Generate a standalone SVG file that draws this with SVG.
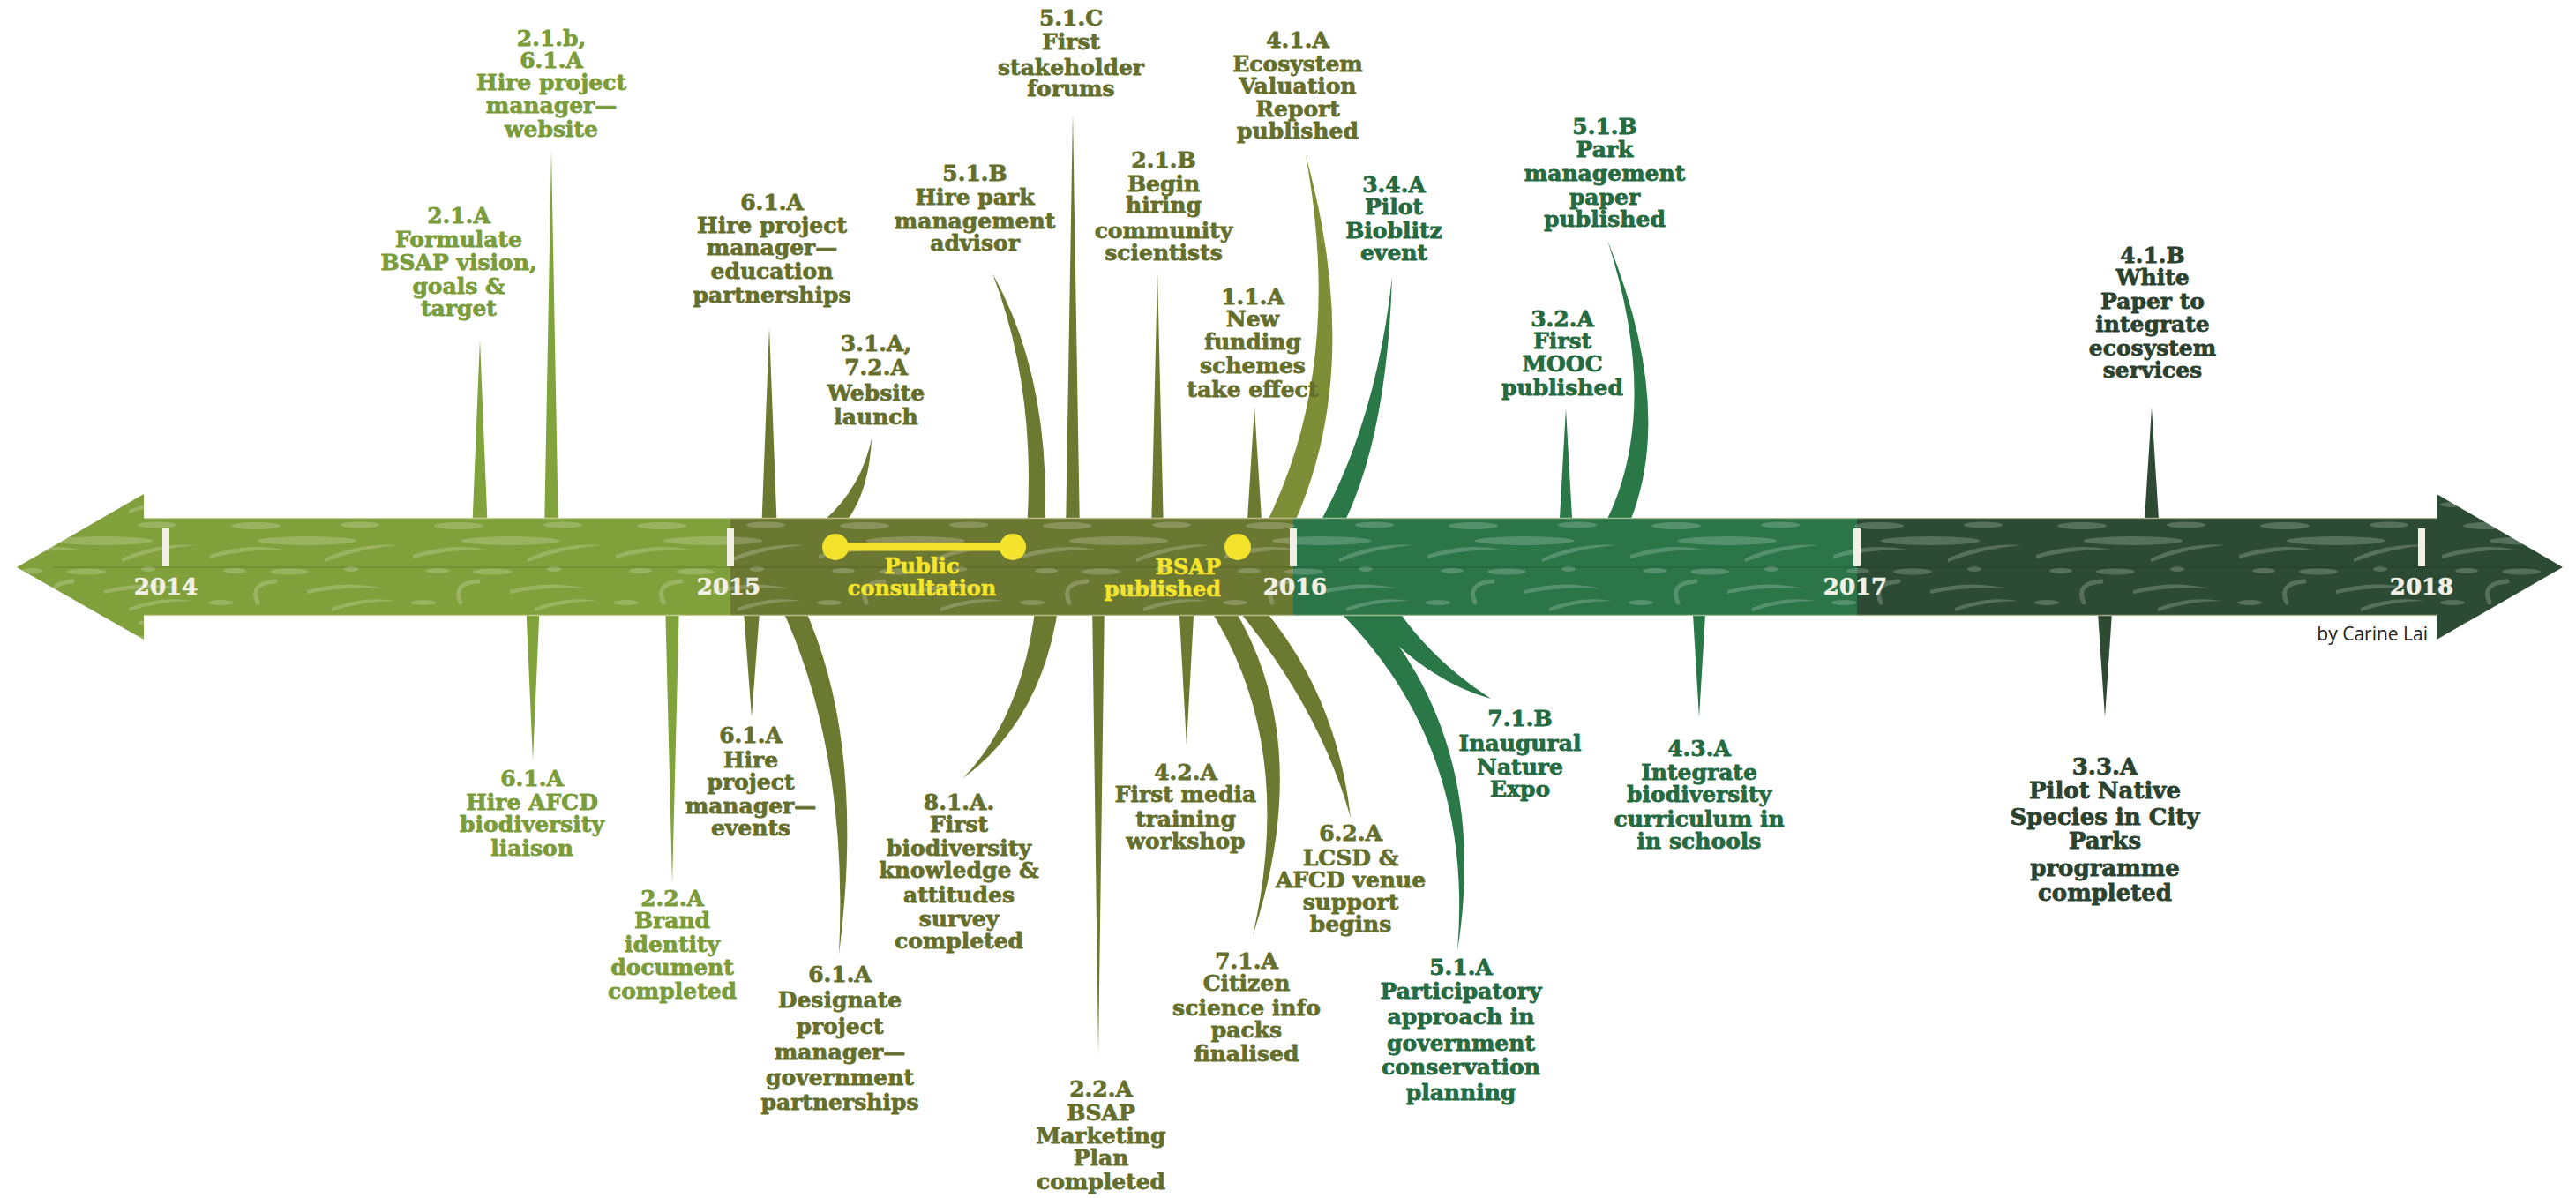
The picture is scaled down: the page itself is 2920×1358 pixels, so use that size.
<svg xmlns="http://www.w3.org/2000/svg" width="2920" height="1358" viewBox="0 0 2920 1358">
<style>
.lbl{font-family:"DejaVu Serif","Liberation Serif",serif;font-weight:bold;font-size:25px;text-anchor:middle;stroke-width:.8;stroke-linejoin:round}
.big{font-size:26px}
.c1{fill:#7b9c3b;stroke:#7b9c3b}.c2{fill:#656f2d;stroke:#656f2d}.c3{fill:#256a40;stroke:#256a40}.c4{fill:#2b4230;stroke:#2b4230}
.b1{fill:#80a33b}.b2{fill:#6c7a31}.b2l{fill:#7e8e36}.b3{fill:#2a7747}.b4{fill:#2e4a33}
.yr{font-family:"DejaVu Serif","Liberation Serif",serif;font-weight:bold;font-size:26px;fill:#f2f0e4;stroke:#f2f0e4;stroke-width:.6;text-anchor:middle}
.tick{fill:#f2f0e6}
.yl{font-family:"DejaVu Serif","Liberation Serif",serif;font-weight:bold;font-size:24px;fill:#f5e42c;stroke:#f5e42c;stroke-width:.6}
.tex{fill:#ffffff;fill-opacity:.2}
</style>
<defs>
<pattern id="tex" patternUnits="userSpaceOnUse" x="0" y="587" width="230" height="111">
<ellipse class="tex" cx="60" cy="9" rx="28" ry="4"/>
<ellipse class="tex" cx="178" cy="8" rx="22" ry="3.5"/>
<ellipse class="tex" cx="118" cy="26" rx="56" ry="5"/>
<path class="tex" d="M8 42 Q50 28 92 36 Q50 35 8 46Z"/>
<path class="tex" d="M138 46 Q178 28 222 31 Q180 34 138 50Z"/>
<ellipse class="tex" cx="36" cy="60" rx="13" ry="3"/>
<ellipse class="tex" cx="98" cy="61" rx="22" ry="3.5"/>
<ellipse class="tex" cx="168" cy="58" rx="8" ry="3"/>
<path d="M62 96 Q52 74 82 72" fill="none" stroke="#ffffff" stroke-opacity=".2" stroke-width="5" stroke-linecap="round"/>
<path class="tex" d="M118 82 Q160 70 204 80 Q160 77 118 86Z"/>
<ellipse class="tex" cx="20" cy="96" rx="14" ry="3"/>
<path class="tex" d="M146 102 Q182 88 218 94 Q182 94 146 106Z"/>
</pattern>
</defs>
<rect width="2920" height="1358" fill="#ffffff"/>

<g id="connectors">
<polygon class="b1" points="535,605 553,605 544,385"/>
<polygon class="b1" points="617,605 633,605 625,170"/>
<polygon class="b2" points="863,605 881,605 872,371"/>
<polygon class="b2" points="1208,605 1224,605 1216,128"/>
<polygon class="b2" points="1305,605 1319,605 1312,308"/>
<polygon class="b2" points="1413,605 1431,605 1422,461"/>
<polygon class="b3" points="1767,605 1783,605 1775,463"/>
<polygon class="b4" points="2430,605 2448,605 2439,462"/>
<path class="b2" d="M922 600 Q975 560 988 497 Q985 565 952 600Z"/>
<path class="b2" d="M1125 310 Q1192 430 1184 600 L1164 600 Q1175 440 1125 310Z"/>
<path class="b2l" d="M1480 176 Q1548 420 1464 600 L1432 600 Q1525 420 1480 176Z"/>
<path class="b3" d="M1578 314 Q1572 500 1520 600 L1492 600 Q1560 480 1578 314Z"/>
<path class="b3" d="M1822 272 Q1902 470 1844 600 L1816 600 Q1886 470 1822 272Z"/>

<polygon class="b1" points="596,680 612,680 604,862"/>
<polygon class="b1" points="754,680 770,680 762,1002"/>
<polygon class="b2" points="842,680 862,680 852,813"/>
<polygon class="b2" points="1238,680 1252,680 1245,1195"/>
<polygon class="b2" points="1336,680 1354,680 1345,845"/>
<polygon class="b3" points="1918,680 1934,680 1926,813"/>
<polygon class="b4" points="2377,680 2395,680 2386,813"/>
<path class="b2" d="M884 685 Q962 850 951 1082 Q982 840 910 685Z"/>
<path class="b2" d="M1174 685 Q1160 810 1092 882 Q1182 815 1200 685Z"/>
<path class="b2" d="M1368 685 Q1470 840 1420 1061 Q1492 840 1396 685Z"/>
<path class="b2" d="M1398 685 Q1495 800 1531 927 Q1515 785 1428 685Z"/>
<path class="b3" d="M1510 685 Q1672 840 1652 1078 Q1690 840 1548 685Z"/>
<path class="b3" d="M1540 685 Q1610 770 1690 792 Q1622 748 1580 685Z"/>
</g>

<g id="timeline">
<polygon fill="#7fa03a" points="19,643 163,560 163,587 828,587 828,698 163,698 163,725"/>
<rect x="828" y="587" width="638" height="111" fill="#6b7832"/>
<rect x="1466" y="587" width="639" height="111" fill="#2b7548"/>
<polygon fill="#2d4b34" points="2105,587 2762,587 2762,560 2905,643 2762,725 2762,698 2105,698"/>
<polygon fill="url(#tex)" points="19,643 163,560 163,587 2762,587 2762,560 2905,643 2762,725 2762,698 163,698 163,725"/>
<line x1="60" y1="643" x2="2870" y2="643" stroke="#000000" stroke-opacity=".12" stroke-width="1.5"/>
<line x1="163" y1="587.5" x2="2762" y2="587.5" stroke="#efe9c6" stroke-opacity=".6" stroke-width="1.5"/>
<line x1="163" y1="697.5" x2="2762" y2="697.5" stroke="#efe9c6" stroke-opacity=".6" stroke-width="1.5"/>
<rect class="tick" x="184" y="599" width="8" height="43"/>
<rect class="tick" x="824" y="599" width="8" height="43"/>
<rect class="tick" x="1462" y="599" width="8" height="43"/>
<rect class="tick" x="2101" y="599" width="8" height="43"/>
<rect class="tick" x="2741" y="599" width="8" height="43"/>
<text class="yr" x="188" y="674">2014</text>
<text class="yr" x="826" y="674">2015</text>
<text class="yr" x="1468" y="674">2016</text>
<text class="yr" x="2103" y="674">2017</text>
<text class="yr" x="2745" y="674">2018</text>
</g>

<g id="public-consultation">
<line x1="947" y1="620" x2="1148" y2="620" stroke="#f4e32c" stroke-width="9"/>
<circle cx="947" cy="620" r="15" fill="#f4e32c"/>
<circle cx="1148" cy="620" r="15" fill="#f4e32c"/>
<text class="yl" text-anchor="middle" x="1045" y="650">Public</text>
<text class="yl" text-anchor="middle" x="1045" y="675">consultation</text>
</g>
<g id="bsap-published">
<circle cx="1403" cy="620" r="15" fill="#f4e32c"/>
<text class="yl" text-anchor="end" x="1384" y="651">BSAP</text>
<text class="yl" text-anchor="end" x="1384" y="676">published</text>
</g>

<g id="n-2-1-A"><text class="lbl c1"><tspan x="520" y="253">2.1.A</tspan><tspan x="520" y="280">Formulate</tspan><tspan x="520" y="306">BSAP vision,</tspan><tspan x="520" y="333">goals &amp;</tspan><tspan x="520" y="358">target</tspan></text></g>
<g id="n-2-1-b"><text class="lbl c1"><tspan x="625" y="52">2.1.b,</tspan><tspan x="625" y="77">6.1.A</tspan><tspan x="625" y="102">Hire project</tspan><tspan x="625" y="128">manager—</tspan><tspan x="625" y="155">website</tspan></text></g>
<g id="n-6-1-A-edu"><text class="lbl c2"><tspan x="875" y="238">6.1.A</tspan><tspan x="875" y="264">Hire project</tspan><tspan x="875" y="289">manager—</tspan><tspan x="875" y="316">education</tspan><tspan x="875" y="343">partnerships</tspan></text></g>
<g id="n-3-1-A"><text class="lbl c2"><tspan x="993" y="398">3.1.A,</tspan><tspan x="993" y="425">7.2.A</tspan><tspan x="993" y="454">Website</tspan><tspan x="993" y="481">launch</tspan></text></g>
<g id="n-5-1-B-hire"><text class="lbl c2"><tspan x="1105" y="205">5.1.B</tspan><tspan x="1105" y="232">Hire park</tspan><tspan x="1105" y="259">management</tspan><tspan x="1105" y="284">advisor</tspan></text></g>
<g id="n-5-1-C"><text class="lbl c2"><tspan x="1214" y="29">5.1.C</tspan><tspan x="1214" y="56">First</tspan><tspan x="1214" y="85">stakeholder</tspan><tspan x="1214" y="109">forums</tspan></text></g>
<g id="n-2-1-B"><text class="lbl c2"><tspan x="1319" y="190">2.1.B</tspan><tspan x="1319" y="217">Begin</tspan><tspan x="1319" y="241">hiring</tspan><tspan x="1319" y="270">community</tspan><tspan x="1319" y="295">scientists</tspan></text></g>
<g id="n-1-1-A"><text class="lbl c2"><tspan x="1420" y="345">1.1.A</tspan><tspan x="1420" y="370">New</tspan><tspan x="1420" y="396">funding</tspan><tspan x="1420" y="423">schemes</tspan><tspan x="1420" y="450">take effect</tspan></text></g>
<g id="n-4-1-A"><text class="lbl c2"><tspan x="1471" y="54">4.1.A</tspan><tspan x="1471" y="81">Ecosystem</tspan><tspan x="1471" y="106">Valuation</tspan><tspan x="1471" y="132">Report</tspan><tspan x="1471" y="157">published</tspan></text></g>
<g id="n-3-4-A"><text class="lbl c3"><tspan x="1580" y="218">3.4.A</tspan><tspan x="1580" y="243">Pilot</tspan><tspan x="1580" y="270">Bioblitz</tspan><tspan x="1580" y="295">event</tspan></text></g>
<g id="n-3-2-A"><text class="lbl c3"><tspan x="1771" y="370">3.2.A</tspan><tspan x="1771" y="395">First</tspan><tspan x="1771" y="421">MOOC</tspan><tspan x="1771" y="448">published</tspan></text></g>
<g id="n-5-1-B-park"><text class="lbl c3"><tspan x="1819" y="152">5.1.B</tspan><tspan x="1819" y="178">Park</tspan><tspan x="1819" y="205">management</tspan><tspan x="1819" y="232">paper</tspan><tspan x="1819" y="257">published</tspan></text></g>
<g id="n-4-1-B"><text class="lbl c4"><tspan x="2440" y="298">4.1.B</tspan><tspan x="2440" y="323">White</tspan><tspan x="2440" y="350">Paper to</tspan><tspan x="2440" y="376">integrate</tspan><tspan x="2440" y="403">ecosystem</tspan><tspan x="2440" y="428">services</tspan></text></g>

<g id="n-6-1-A-afcd"><text class="lbl c1"><tspan x="603" y="891">6.1.A</tspan><tspan x="603" y="918">Hire AFCD</tspan><tspan x="603" y="943">biodiversity</tspan><tspan x="603" y="970">liaison</tspan></text></g>
<g id="n-2-2-A-brand"><text class="lbl c1"><tspan x="762" y="1027">2.2.A</tspan><tspan x="762" y="1052">Brand</tspan><tspan x="762" y="1079">identity</tspan><tspan x="762" y="1105">document</tspan><tspan x="762" y="1132">completed</tspan></text></g>
<g id="n-6-1-A-events"><text class="lbl c2"><tspan x="851" y="842">6.1.A</tspan><tspan x="851" y="870">Hire</tspan><tspan x="851" y="895">project</tspan><tspan x="851" y="922">manager—</tspan><tspan x="851" y="947">events</tspan></text></g>
<g id="n-6-1-A-gov"><text class="lbl c2"><tspan x="952" y="1113">6.1.A</tspan><tspan x="952" y="1142">Designate</tspan><tspan x="952" y="1172">project</tspan><tspan x="952" y="1201">manager—</tspan><tspan x="952" y="1230">government</tspan><tspan x="952" y="1258">partnerships</tspan></text></g>
<g id="n-8-1-A"><text class="lbl c2"><tspan x="1087" y="918">8.1.A.</tspan><tspan x="1087" y="943">First</tspan><tspan x="1087" y="970">biodiversity</tspan><tspan x="1087" y="995">knowledge &amp;</tspan><tspan x="1087" y="1023">attitudes</tspan><tspan x="1087" y="1050">survey</tspan><tspan x="1087" y="1075">completed</tspan></text></g>
<g id="n-2-2-A-mkt"><text class="lbl c2"><tspan x="1248" y="1243">2.2.A</tspan><tspan x="1248" y="1270">BSAP</tspan><tspan x="1248" y="1296">Marketing</tspan><tspan x="1248" y="1321">Plan</tspan><tspan x="1248" y="1348">completed</tspan></text></g>
<g id="n-4-2-A"><text class="lbl c2"><tspan x="1344" y="884">4.2.A</tspan><tspan x="1344" y="909">First media</tspan><tspan x="1344" y="937">training</tspan><tspan x="1344" y="962">workshop</tspan></text></g>
<g id="n-7-1-A"><text class="lbl c2"><tspan x="1413" y="1098">7.1.A</tspan><tspan x="1413" y="1123">Citizen</tspan><tspan x="1413" y="1151">science info</tspan><tspan x="1413" y="1176">packs</tspan><tspan x="1413" y="1203">finalised</tspan></text></g>
<g id="n-6-2-A"><text class="lbl c2"><tspan x="1531" y="953">6.2.A</tspan><tspan x="1531" y="981">LCSD &amp;</tspan><tspan x="1531" y="1006">AFCD venue</tspan><tspan x="1531" y="1031">support</tspan><tspan x="1531" y="1056">begins</tspan></text></g>
<g id="n-7-1-B"><text class="lbl c3"><tspan x="1723" y="823">7.1.B</tspan><tspan x="1723" y="851">Inaugural</tspan><tspan x="1723" y="878">Nature</tspan><tspan x="1723" y="903">Expo</tspan></text></g>
<g id="n-5-1-A"><text class="lbl c3"><tspan x="1656" y="1105">5.1.A</tspan><tspan x="1656" y="1132">Participatory</tspan><tspan x="1656" y="1161">approach in</tspan><tspan x="1656" y="1191">government</tspan><tspan x="1656" y="1218">conservation</tspan><tspan x="1656" y="1247">planning</tspan></text></g>
<g id="n-4-3-A"><text class="lbl c3"><tspan x="1926" y="857">4.3.A</tspan><tspan x="1926" y="884">Integrate</tspan><tspan x="1926" y="909">biodiversity</tspan><tspan x="1926" y="937">curriculum in</tspan><tspan x="1926" y="962">in schools</tspan></text></g>
<g id="n-3-3-A"><text class="lbl c4 big"><tspan x="2386" y="878">3.3.A</tspan><tspan x="2386" y="905">Pilot Native</tspan><tspan x="2386" y="935">Species in City</tspan><tspan x="2386" y="962">Parks</tspan><tspan x="2386" y="993">programme</tspan><tspan x="2386" y="1021">completed</tspan></text></g>

<g id="credit"><text x="2752" y="726" font-family="'Open Sans','Noto Sans',sans-serif" font-size="21" fill="#222222" text-anchor="end">by Carine Lai</text></g>
</svg>
